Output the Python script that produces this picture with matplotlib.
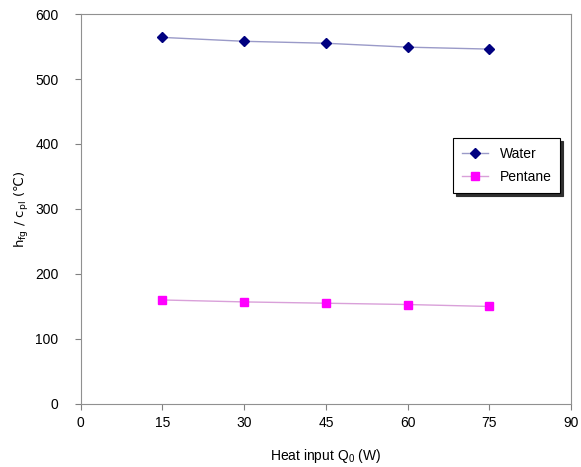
import matplotlib.pyplot as plt
import numpy as np

plt.rcParams['font.family'] = ['Liberation Sans', 'DejaVu Sans']

# data
heat_input = [15, 30, 45, 60, 75]
water = [564, 558, 555, 549, 546]
pentane = [160, 157, 155, 153, 150]

fig = plt.figure(figsize=(5.81, 4.67), dpi=100)
ax = fig.add_axes([0.139, 0.135, 0.844, 0.835])

ax.plot(heat_input, water, color='#9a9ac8', lw=1, marker='D', ms=5,
        mfc='#000080', mec='#000080', label='Water')
ax.plot(heat_input, pentane, color='#d9a0d9', lw=1, marker='s', ms=6,
        mfc='#ff00ff', mec='#ff00ff', label='Pentane')

ax.set_xlim(0, 90)
ax.set_ylim(0, 600)
ax.set_xticks(np.arange(0, 91, 15))
ax.set_yticks(np.arange(0, 601, 100))
ax.tick_params(direction='out', length=4, color='#808080', labelsize=10)
ax.tick_params(axis='x', pad=5)
ax.tick_params(axis='y', pad=12)
for s in ax.spines.values():
    s.set_color('#909090')

ax.set_xlabel('Heat input Q$_\\mathregular{0}$ (W)', fontsize=10, labelpad=12)
ax.set_ylabel('h$_\\mathregular{fg}$ / c$_\\mathregular{pl}$ (\u2103)', fontsize=9.5,
              labelpad=3, fontfamily='DejaVu Sans')

leg = ax.legend(loc='upper left', bbox_to_anchor=(0.759, 0.682), borderaxespad=0,
                fontsize=10, shadow={'color': '#303030', 'alpha': 1},
                fancybox=False, framealpha=1, edgecolor='black',
                borderpad=0.65, handlelength=1.9, labelspacing=0.65)
leg.get_frame().set_linewidth(0.8)

fig.savefig('out.png', dpi=100)
